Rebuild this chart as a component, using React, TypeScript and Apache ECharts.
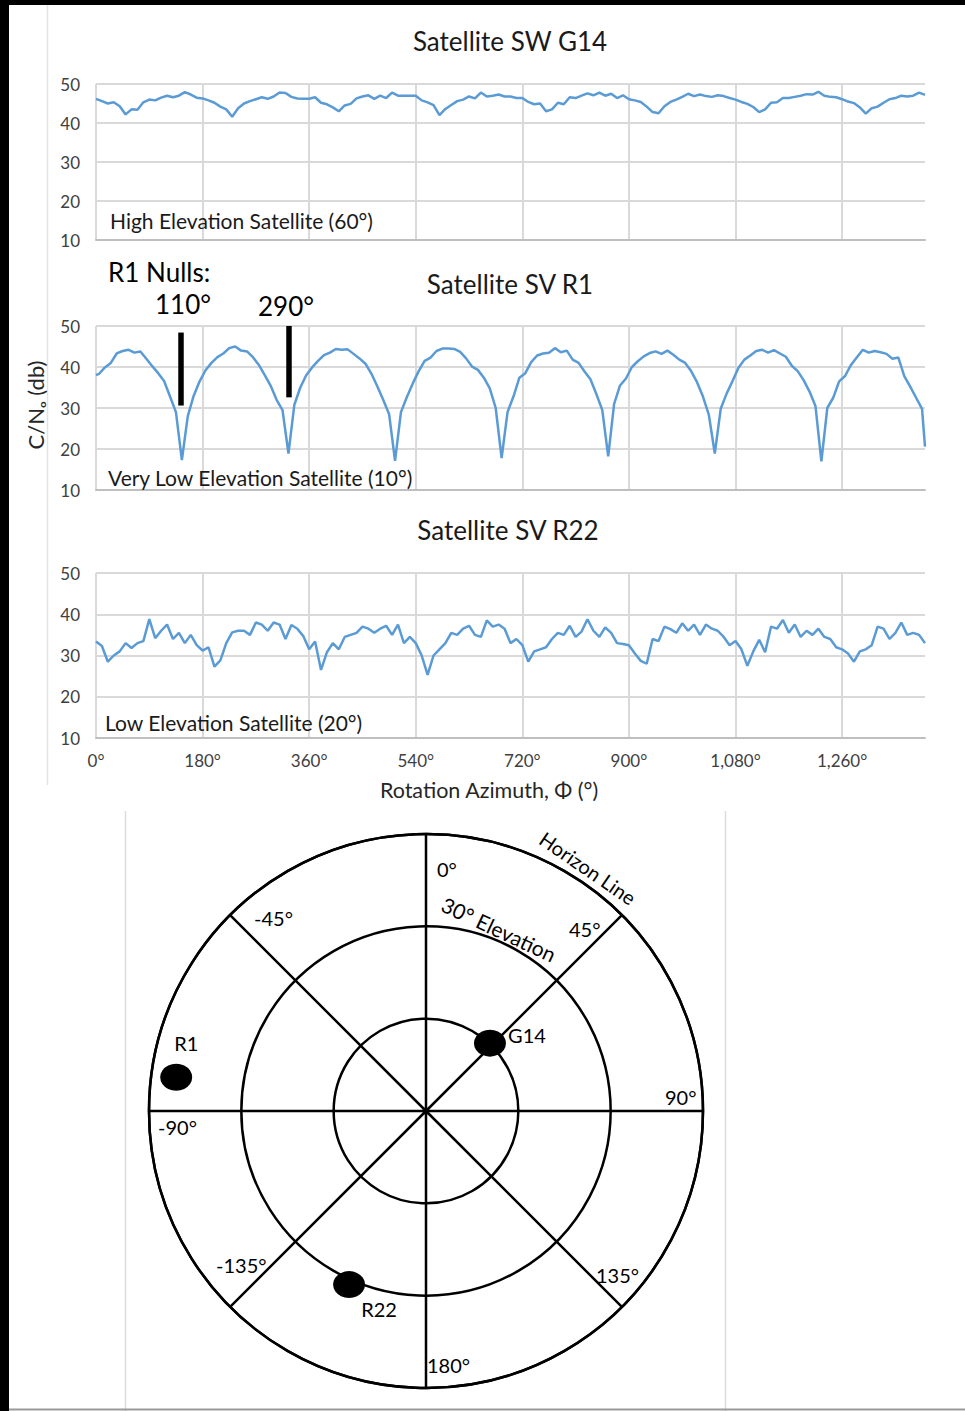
import React, { useEffect, useRef } from "react";
import * as echarts from "echarts";

const FONT = "Lato, 'Open Sans', sans-serif";
const LINE_COLOR = "#5B9BD5";

// ---------- axis definitions ----------
const xMin = 0;
const xMax = 1400;
const xTickStep = 180;
const yMin = 10;
const yMax = 50;
const yTickStep = 10;

// ---------- data ----------
const g14Azimuth = Array.from({ length: 141 }, (_, i) => i * 10);
const g14Cn0 = [
  46.2, 45.6, 45.0, 45.3, 44.3, 42.2, 43.5, 43.4, 45.3, 46.0,
  45.8, 46.5, 47.0, 46.6, 47.0, 47.9, 47.3, 46.5, 46.3, 45.8,
  45.2, 44.2, 43.5, 41.6, 43.8, 45.0, 45.6, 46.1, 46.6, 46.2,
  46.8, 47.8, 47.7, 46.7, 46.3, 46.2, 46.2, 46.6, 45.2, 44.8,
  44.0, 43.0, 44.5, 44.9, 46.3, 46.8, 47.1, 46.2, 47.0, 46.4,
  47.8, 47.0, 47.0, 47.0, 47.0, 45.8, 45.3, 44.6, 42.0, 43.6,
  44.6, 45.6, 46.0, 46.8, 46.3, 47.8, 46.8, 47.0, 47.3, 46.8,
  46.8, 46.4, 46.4, 45.4, 44.8, 45.0, 43.0, 43.5, 45.2, 44.8,
  46.6, 46.4, 47.0, 47.6, 47.1, 47.8, 47.0, 47.5, 46.4, 47.1,
  46.1, 45.8, 45.4, 44.2, 42.8, 42.5, 44.3, 45.4, 46.0, 46.7,
  47.5, 46.9, 47.3, 46.9, 46.7, 47.1, 46.9, 46.4, 46.0, 45.4,
  44.9, 44.1, 42.8, 43.5, 45.2, 45.3, 46.4, 46.4, 46.7, 47.0,
  47.4, 47.3, 48.0, 47.0, 46.7, 46.6, 46.1, 45.5, 45.1, 44.0,
  42.4, 43.8, 44.2, 45.2, 46.1, 46.4, 47.0, 46.8, 47.0, 47.8,
  47.2,
];

const r1Azimuth = [0, ...Array.from({ length: 140 }, (_, i) => 5 + i * 10), 1400];
const r1Cn0 = [
  38.0,
  38.3, 39.9, 41.0, 43.3, 43.9, 44.2, 43.5, 43.8, 42.0, 40.2,
  38.5, 36.6, 32.8, 29.0, 17.3, 28.0, 33.0, 36.5, 39.2, 41.0,
  42.4, 43.3, 44.6, 45.0, 44.0, 43.8, 42.4, 40.5, 38.0, 35.4,
  32.0, 29.5, 18.9, 30.8, 35.0, 38.0, 39.9, 41.5, 42.9, 43.5,
  44.4, 44.2, 44.3, 43.2, 42.1, 40.8, 38.4, 35.3, 32.0, 28.5,
  17.1, 29.0, 32.7, 36.0, 39.0, 41.5, 42.3, 43.9, 44.5, 44.5,
  44.4, 43.7, 42.1, 40.1, 39.3, 37.4, 34.8, 30.0, 17.8, 29.0,
  32.8, 37.4, 38.5, 41.2, 42.8, 43.3, 43.5, 44.6, 43.6, 44.0,
  41.8, 41.0, 38.9, 37.0, 33.4, 29.5, 18.2, 31.0, 35.5, 37.2,
  40.0, 41.4, 42.6, 43.4, 43.8, 43.2, 44.0, 43.0, 41.8, 41.0,
  39.0, 36.3, 32.8, 28.3, 18.9, 29.8, 33.5, 36.6, 39.8, 41.8,
  42.8, 43.9, 44.2, 43.5, 44.1, 43.3, 42.5, 40.3, 39.0, 36.8,
  34.0, 30.5, 17.0, 30.0, 32.5, 36.5, 37.8, 40.5, 42.4, 44.2,
  43.5, 43.9, 43.6, 43.2, 42.0, 42.3, 37.8, 35.2, 32.5, 29.8,
  20.6,
];

const r22Azimuth = Array.from({ length: 141 }, (_, i) => i * 10);
const r22Cn0 = [
  33.4, 32.3, 28.5, 30.0, 31.0, 33.0, 31.8, 33.0, 33.5, 38.8,
  34.2, 36.0, 37.5, 34.0, 35.5, 33.0, 35.0, 32.5, 31.2, 32.0,
  27.3, 28.8, 33.0, 35.6, 36.0, 36.0, 35.0, 38.0, 37.5, 36.0,
  38.0, 37.5, 34.0, 37.4, 36.5, 34.7, 31.5, 33.4, 26.5, 30.8,
  33.0, 31.5, 34.5, 35.0, 35.5, 37.0, 36.5, 35.5, 36.5, 37.2,
  35.0, 37.5, 33.0, 34.5, 33.0, 30.0, 25.3, 30.0, 31.5, 33.0,
  35.5, 35.0, 36.5, 37.2, 35.0, 34.5, 38.5, 37.0, 37.5, 36.5,
  33.0, 34.0, 32.5, 28.5, 31.0, 31.5, 32.0, 34.0, 35.5, 35.0,
  37.2, 34.5, 35.8, 38.8, 36.0, 34.5, 36.8, 35.5, 33.0, 32.8,
  32.5, 30.5, 28.7, 28.0, 34.0, 33.5, 37.0, 36.4, 35.5, 37.8,
  36.0, 37.5, 35.0, 37.5, 36.5, 36.0, 34.5, 32.5, 33.5, 31.5,
  27.5, 31.0, 33.8, 30.8, 37.0, 36.5, 38.6, 35.5, 37.5, 34.5,
  36.0, 35.0, 36.5, 34.5, 34.0, 32.0, 31.5, 30.5, 28.5, 31.0,
  31.5, 32.5, 37.0, 36.5, 34.0, 35.5, 38.0, 35.0, 35.5, 35.0,
  33.0,
];

// R1 null annotation bars
const nullMarkAzimuth = [142.5, 324.8];
const nullMarkTop = [48.4, 50];
const nullMarkBottom = [30.6, 32.6];
const nullLabels = ["110°", "290°"];

const chartTitles = ["Satellite SW G14", "Satellite SV R1", "Satellite SV R22"];
const chartNotes = [
  "High Elevation Satellite (60°)",
  "Very Low Elevation Satellite (10°)",
  "Low Elevation Satellite (20°)",
];

// Sky plot
const satNames = ["R1", "G14", "R22"];
const satAzimuth = [277.7, 43.3, 203.9];
const satElevation = [8.1, 59.7, 28.3];
const compassLabels = ["0°", "45°", "90°", "135°", "180°", "-135°", "-90°", "-45°"];

// ---------- layout / style (not data) ----------
const grids = [
  { left: 96, top: 84, width: 829, height: 156 },
  { left: 96, top: 326, width: 829, height: 164 },
  { left: 96, top: 573, width: 829, height: 165 },
];
const titlePos = [
  [510, 41],
  [510, 284],
  [508, 530],
];
const notePos = [
  [110, 220],
  [108, 477],
  [105, 722],
];
const nullLabelPos = [
  [183, 304],
  [286, 306],
];
const satLabelOffset = [
  [10, -34],
  [37, -8],
  [30, 24],
];
const compassPos = [
  [437, 869, "left"],
  [569, 929, "left"],
  [665, 1097, "left"],
  [596, 1275, "left"],
  [427, 1365, "left"],
  [216, 1265, "left"],
  [158, 1127, "left"],
  [254, 918, "left"],
];

function pairs(xs: number[], ys: number[]) {
  return xs.map((x, i) => [x, ys[i]]);
}

function txt(
  text: string,
  x: number,
  y: number,
  fontSize: number,
  align: string = "center",
  rotation = 0,
  fill = "#1a1a1a"
) {
  return {
    type: "text",
    x,
    y,
    rotation,
    z: 100,
    silent: true,
    style: {
      text,
      x: 0,
      y: 0,
      fill,
      fontSize,
      fontFamily: FONT,
      align,
      verticalAlign: "middle",
      textAlign: align,
      textVerticalAlign: "middle",
    },
  };
}

function buildOption() {
  const xAxes = grids.map((_, i) => ({
    type: "value",
    gridIndex: i,
    min: xMin,
    max: xMax,
    interval: xTickStep,
    axisLine: { show: true, onZero: false, lineStyle: { color: "#bfbfbf", width: 2 } },
    axisTick: { show: false },
    axisLabel: {
      show: i === 2,
      color: "#404040",
      fontSize: 17,
      fontFamily: FONT,
      margin: 14,
      showMaxLabel: false,
      formatter: (v: number) => v.toLocaleString("en-US") + "°",
    },
    splitLine: { show: true, showMaxLine: false, lineStyle: { color: "#d9d9d9", width: 2 } },
  }));
  const yAxes = grids.map((_, i) => ({
    type: "value",
    gridIndex: i,
    min: yMin,
    max: yMax,
    interval: yTickStep,
    axisLine: { show: false },
    axisTick: { show: false },
    axisLabel: { color: "#404040", fontSize: 17, fontFamily: FONT, margin: 16 },
    splitLine: { show: true, lineStyle: { color: "#d9d9d9", width: 2 } },
  }));

  const lineSeries = (data: number[][], idx: number, extra: any = {}) => ({
    type: "line",
    xAxisIndex: idx,
    yAxisIndex: idx,
    data,
    showSymbol: false,
    symbol: "none",
    smooth: false,
    silent: true,
    lineStyle: { color: LINE_COLOR, width: 2.5 },
    ...extra,
  });

  const graphics: any[] = [
    // frame
    { type: "rect", shape: { x: 0, y: 0, width: 965, height: 5 }, style: { fill: "#000" }, z: 50 },
    { type: "rect", shape: { x: 0, y: 0, width: 9, height: 1411 }, style: { fill: "#000" }, z: 50 },
    { type: "line", shape: { x1: 47.5, y1: 5, x2: 47.5, y2: 785 }, style: { stroke: "#e3e3e3", lineWidth: 1.5 } },
    { type: "line", shape: { x1: 125.5, y1: 811, x2: 125.5, y2: 1411 }, style: { stroke: "#dcdcdc", lineWidth: 1.5 } },
    { type: "line", shape: { x1: 725.5, y1: 811, x2: 725.5, y2: 1411 }, style: { stroke: "#dcdcdc", lineWidth: 1.5 } },
    { type: "line", shape: { x1: 9, y1: 1409.5, x2: 965, y2: 1409.5 }, style: { stroke: "#9a9a9a", lineWidth: 2 } },
  ];
  chartTitles.forEach((t, i) => graphics.push(txt(t, titlePos[i][0], titlePos[i][1], 26)));
  chartNotes.forEach((t, i) => graphics.push(txt(t, notePos[i][0], notePos[i][1], 21, "left")));
  graphics.push(txt("R1 Nulls:", 108, 272, 26, "left", 0, "#000"));
  nullLabels.forEach((t, i) => graphics.push(txt(t, nullLabelPos[i][0], nullLabelPos[i][1], 26, "center", 0, "#000")));
  graphics.push(txt("Rotation Azimuth, Φ (°)", 489, 790, 21.5, "center", 0, "#262626"));
  graphics.push(txt("C/Nₒ (db)", 35, 405, 22, "center", Math.PI / 2, "#262626"));
  compassLabels.forEach((t, i) =>
    graphics.push(txt(t, compassPos[i][0] as number, compassPos[i][1] as number, 20, compassPos[i][2] as string, 0, "#000"))
  );
  graphics.push(txt("Horizon Line", 588, 868, 20, "center", (-34.5 * Math.PI) / 180, "#000"));
  graphics.push(txt("30° Elevation", 499, 929, 21, "center", (-25 * Math.PI) / 180, "#000"));

  return {
    animation: false,
    backgroundColor: "#ffffff",
    textStyle: { fontFamily: FONT },
    grid: grids,
    xAxis: xAxes,
    yAxis: yAxes,
    polar: { center: [426, 1111], radius: 277 },
    angleAxis: {
      type: "value",
      min: 0,
      max: 360,
      interval: 45,
      startAngle: 90,
      clockwise: true,
      axisLine: { show: true, lineStyle: { color: "#000", width: 2.5 } },
      axisTick: { show: false },
      axisLabel: { show: false },
      splitLine: { show: true, lineStyle: { color: "#000", width: 2.5 } },
    },
    radiusAxis: {
      type: "value",
      min: 0,
      max: 90,
      interval: 30,
      axisLine: { show: false },
      axisTick: { show: false },
      axisLabel: { show: false },
      splitLine: { show: true, lineStyle: { color: "#000", width: 2.5 } },
    },
    series: [
      lineSeries(pairs(g14Azimuth, g14Cn0), 0),
      lineSeries(pairs(r1Azimuth, r1Cn0), 1, {
        markLine: {
          silent: true,
          symbol: "none",
          label: { show: false },
          lineStyle: { color: "#000", width: 5.5, type: "solid", opacity: 1 },
          data: nullMarkAzimuth.map((az, i) => [
            { coord: [az, nullMarkTop[i]] },
            { coord: [az, nullMarkBottom[i]] },
          ]),
        },
      }),
      lineSeries(pairs(r22Azimuth, r22Cn0), 2),
      {
        type: "scatter",
        coordinateSystem: "polar",
        silent: true,
        symbol: "circle",
        symbolSize: [32, 27],
        itemStyle: { color: "#000", opacity: 1 },
        z: 10,
        data: satNames.map((n, i) => ({
          name: n,
          value: [90 - satElevation[i], satAzimuth[i]],
          label: {
            show: true,
            formatter: n,
            position: "inside",
            offset: satLabelOffset[i],
            color: "#000",
            fontSize: 20,
            fontFamily: FONT,
          },
        })),
      },
    ],
    graphic: graphics,
  };
}

export default function App() {
  const ref = useRef<HTMLDivElement>(null);
  useEffect(() => {
    if (!ref.current) return;
    const chart = echarts.init(ref.current, null, { renderer: "svg" });
    chart.setOption(buildOption() as any);
    return () => chart.dispose();
  }, []);
  return (
    <div
      ref={ref}
      style={{ position: "absolute", left: 0, top: 0, width: 965, height: 1411, background: "#fff" }}
    />
  );
}
